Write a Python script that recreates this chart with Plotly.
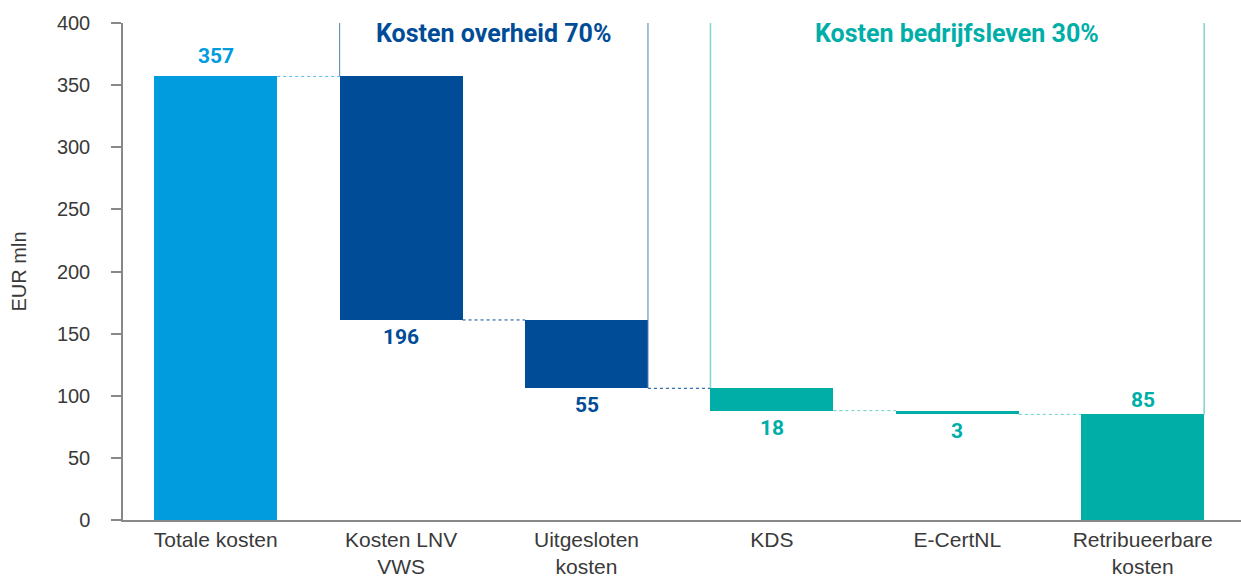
import plotly.graph_objects as go

categories = ["Totale kosten", "Kosten LNV<br>VWS", "Uitgesloten<br>kosten", "KDS", "E-CertNL", "Retribueerbare<br>kosten"]
changes = [357, -196, -55, -18, -3, 85]
kinds = ["total", "delta", "delta", "delta", "delta", "total"]
labels = ["357", "196", "55", "18", "3", "85"]
yticks = [0, 50, 100, 150, 200, 250, 300, 350, 400]
groups = ["Kosten overheid 70%", "Kosten bedrijfsleven 30%"]

LIGHT = "#009CDE"
DARK = "#004C97"
TEAL = "#00AEA8"
bar_colors = [LIGHT, DARK, DARK, TEAL, TEAL, TEAL]
conn_colors = ["#5FB8E8", DARK, DARK, "#66CFC8", "#66CFC8"]

W = 0.663
x = list(range(len(categories)))

bases, heights, tops, bottoms = [], [], [], []
running = 0
for c, k in zip(changes, kinds):
    if k == "total":
        b, h = 0, c
        running = c
    else:
        b = running + c
        h = -c
        running = running + c
    bases.append(b)
    heights.append(h)
    bottoms.append(b)
    tops.append(b + h)

fig = go.Figure()
fig.add_trace(go.Bar(x=x, y=heights, base=bases, width=W, marker=dict(color=bar_colors, line=dict(width=0)),
                     hoverinfo="skip"))

shapes = []
for i in range(len(x) - 1):
    lvl = bottoms[i] if kinds[i] == "delta" else tops[i]
    shapes.append(dict(type="line", xref="x", yref="y", x0=i + W / 2, x1=i + 1 - W / 2, y0=lvl, y1=lvl,
                       line=dict(color=conn_colors[i], width=1, dash="dot")))

shapes.append(dict(type="line", xref="x", yref="y", x0=1 - W / 2, x1=1 - W / 2, y0=tops[1], y1=400,
                   line=dict(color="#4F7FBA", width=1)))
shapes.append(dict(type="line", xref="x", yref="y", x0=2 + W / 2, x1=2 + W / 2, y0=bottoms[2], y1=400,
                   line=dict(color="#4F7FBA", width=1)))
shapes.append(dict(type="line", xref="x", yref="y", x0=3 - W / 2, x1=3 - W / 2, y0=tops[3], y1=400,
                   line=dict(color="#7FD6CF", width=1.5)))
shapes.append(dict(type="line", xref="x", yref="y", x0=5 + W / 2, x1=5 + W / 2, y0=tops[5], y1=402,
                   line=dict(color="#7FD6CF", width=1.5)))
shapes.append(dict(type="line", xref="paper", yref="y", x0=0, x1=0, y0=0, y1=-6,
                   line=dict(color="#888888", width=1.5)))

NUMFONT = "Roboto"
annotations = []
for i in range(len(x)):
    if kinds[i] == "total":
        shift = 6 if i == 0 else 0
        annotations.append(dict(x=i, y=tops[i], xref="x", yref="y", text="<b>%s</b>" % labels[i], showarrow=False,
                                yanchor="bottom", yshift=shift, font=dict(family=NUMFONT, size=21, color=bar_colors[i])))
    else:
        annotations.append(dict(x=i, y=bottoms[i], xref="x", yref="y", text="<b>%s</b>" % labels[i], showarrow=False,
                                yanchor="top", yshift=-3, font=dict(family=NUMFONT, size=21, color=bar_colors[i])))

annotations.append(dict(x=1.5, y=1, xref="x", yref="paper", text="<b>%s</b>" % groups[0], showarrow=False,
                        yanchor="top", yshift=6, font=dict(family=NUMFONT, size=25, color=DARK)))
annotations.append(dict(x=4.0, y=1, xref="x", yref="paper", text="<b>%s</b>" % groups[1], showarrow=False,
                        yanchor="top", yshift=6, font=dict(family=NUMFONT, size=25, color=TEAL)))

TXT = "#3A3A3A"
fig.update_layout(
    width=1241, height=578,
    margin=dict(l=123, r=0, t=23, b=58),
    plot_bgcolor="white", paper_bgcolor="white",
    showlegend=False,
    bargap=0,
    shapes=shapes,
    annotations=annotations,
    font=dict(family="Liberation Sans", size=20, color=TXT),
)
fig.update_xaxes(range=[-0.5, 5.53], tickmode="array", tickvals=x, ticktext=categories,
                 showline=True, linecolor="#888888", linewidth=1.5, ticks="", showgrid=False, zeroline=False,
                 tickfont=dict(family="Liberation Sans", size=21, color=TXT))
fig.update_yaxes(range=[0, 400], tickmode="array", tickvals=yticks, showline=True, linecolor="#888888", linewidth=1.5,
                 ticks="outside", ticklen=10, tickcolor="#888888", tickwidth=1.5, showgrid=False, zeroline=False,
                 ticklabelstandoff=17,
                 tickfont=dict(family="Liberation Sans", size=20, color=TXT),
                 title=dict(text="EUR mln", font=dict(family="Liberation Sans", size=20, color=TXT), standoff=25))

fig.write_html("out.html", config={"displayModeBar": False},
               post_script="document.body.style.margin='0';document.body.style.padding='0';")
